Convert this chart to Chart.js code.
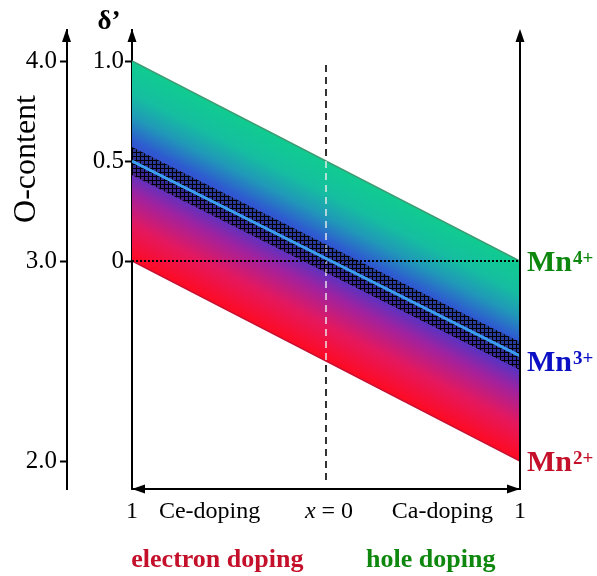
<!DOCTYPE html>
<html>
<head>
<meta charset="utf-8">
<script src="https://cdn.jsdelivr.net/npm/chart.js@4"></script>
<style>
  body { margin: 0; background: #fff; }
</style>
</head>
<body>
<canvas id="chart" width="597" height="576"></canvas>
<script>
// doping axis runs from x = 1 (Ce) through 0 to x = 1 (Ca)
const xRange = [-1, 1];

// delta' values at both ends of each line
const bandUpper = [1.0, 0.0];
const bandLower = [0.0, -1.0];
const hatchUpper = [0.57, -0.405];
const hatchLower = [0.43, -0.545];
const centerLine = [0.5, -0.475];
const zeroLine = [0, 0];

// vertical x = 0 divider
const dividerX = [0, 0];
const dividerY = [0.98, -1.12];
const dividerInBand = [0.5, -0.5];

// axis ticks
const deltaTicks = [0, 0.5, 1.0];
const deltaTickLabels = ['0', '0.5', '1.0'];
const oxygenTicks = [2.0, 3.0, 4.0];
const oxygenTickLabels = ['2.0', '3.0', '4.0'];
const xTicks = [-1, -0.6, 0.6, 1];
const xTickLabels = ['1', 'Ce-doping', 'Ca-doping', '1'];

// manganese valence labels on the right
const ionCharges = ['4+', '3+', '2+'];
const ionLevels = [0, -0.5, -1];
const ionColors = ['#0e870e', '#0c10c4', '#c4102a'];

// doping regime labels under the axis
const dopingLabels = ['electron doping', 'hole doping'];
const dopingX = [-0.56, 0.54];
const dopingColors = ['#c4102a', '#0e870e'];

const SERIF = '"Liberation Serif", "DejaVu Serif", serif';
Chart.defaults.font.family = SERIF;
Chart.defaults.color = '#000';

function pts(ys, xs = xRange) {
    return xs.map((x, i) => ({ x: x, y: ys[i] }));
}

// gradient running across the slanted band, green on top to red at the bottom
function bandGradient(chart) {
    const { ctx, chartArea, scales } = chart;
    if (!chartArea) return 'rgba(0,0,0,0)';
    const x0 = scales.x.getPixelForValue(xRange[0]);
    const x1 = scales.x.getPixelForValue(xRange[1]);
    const t0 = scales.y.getPixelForValue(bandUpper[0]);
    const t1 = scales.y.getPixelForValue(bandUpper[1]);
    const b0 = scales.y.getPixelForValue(bandLower[0]);
    const dx = x1 - x0, dy = t1 - t0, len = Math.hypot(dx, dy);
    const nx = -dy / len, ny = dx / len;
    const dist = (b0 - t0) * ny;
    const g = ctx.createLinearGradient(x0, t0, x0 + nx * dist, t0 + ny * dist);
    g.addColorStop(0.00, '#10cc90');
    g.addColorStop(0.16, '#15bea0');
    g.addColorStop(0.28, '#2098b8');
    g.addColorStop(0.40, '#2e5ad0');
    g.addColorStop(0.52, '#4438cc');
    g.addColorStop(0.66, '#a0229f');
    g.addColorStop(0.82, '#e4185e');
    g.addColorStop(1.00, '#ff0a22');
    return g;
}

// small cross-hatch tile
function hatchPattern() {
    const c = document.createElement('canvas');
    c.width = 4;
    c.height = 4;
    const g = c.getContext('2d');
    g.fillStyle = '#000';
    g.fillRect(0, 0, 4, 1);
    g.fillRect(0, 0, 1, 4);
    g.fillStyle = 'rgba(0,0,0,0.25)';
    g.fillRect(1, 1, 3, 3);
    return g.createPattern(c, 'repeat');
}

function arrow(ctx, x, y, dir) {
    const len = 13, half = 4.5;
    ctx.beginPath();
    if (dir === 'up') {
        ctx.moveTo(x, y);
        ctx.lineTo(x - half, y + len);
        ctx.lineTo(x + half, y + len);
    } else if (dir === 'left') {
        ctx.moveTo(x, y);
        ctx.lineTo(x + len, y - half);
        ctx.lineTo(x + len, y + half);
    } else {
        ctx.moveTo(x, y);
        ctx.lineTo(x - len, y - half);
        ctx.lineTo(x - len, y + half);
    }
    ctx.closePath();
    ctx.fill();
}

const decorations = {
    id: 'decorations',
    afterDraw(chart) {
        const { ctx, chartArea: a, scales } = chart;
        const xs = scales.x, ys = scales.y;
        ctx.save();

        // right-hand axis
        ctx.strokeStyle = '#000';
        ctx.lineWidth = 2;
        ctx.beginPath();
        ctx.moveTo(a.right, a.bottom);
        ctx.lineTo(a.right, a.top + 6);
        ctx.stroke();

        ctx.fillStyle = '#000';
        [scales.y2.right - 0.5, a.left, a.right].forEach(px => arrow(ctx, px, a.top - 1, 'up'));
        arrow(ctx, a.left, a.bottom, 'left');
        arrow(ctx, a.right, a.bottom, 'right');

        // delta' label on top of its axis
        ctx.font = 'bold 27px ' + SERIF;
        ctx.textAlign = 'center';
        ctx.textBaseline = 'alphabetic';
        ctx.fillText('δ’', a.left - 23, 29);

        // O-content title
        ctx.save();
        ctx.translate(35, 159);
        ctx.rotate(-Math.PI / 2);
        ctx.font = '32px ' + SERIF;
        ctx.textAlign = 'center';
        ctx.fillText('O-content', 0, 0);
        ctx.restore();

        // "x = 0" under the divider
        ctx.textAlign = 'left';
        ctx.textBaseline = 'middle';
        ctx.font = 'italic 24px ' + SERIF;
        const wx = ctx.measureText('x').width;
        ctx.font = '24px ' + SERIF;
        const wr = ctx.measureText(' = 0').width;
        let sx = xs.getPixelForValue(0) + 3 - (wx + wr) / 2;
        ctx.font = 'italic 24px ' + SERIF;
        ctx.fillText('x', sx, 512);
        ctx.font = '24px ' + SERIF;
        ctx.fillText(' = 0', sx + wx, 512);

        // Mn valence labels
        ctx.textBaseline = 'alphabetic';
        ionCharges.forEach((charge, i) => {
            const base = ys.getPixelForValue(ionLevels[i]) + 10;
            ctx.fillStyle = ionColors[i];
            ctx.font = 'bold 30px ' + SERIF;
            ctx.fillText('Mn', a.right + 7, base);
            const w = ctx.measureText('Mn').width;
            ctx.font = 'bold 19px ' + SERIF;
            ctx.fillText(charge, a.right + 8 + w, base - 7);
        });

        // doping regime labels
        ctx.textAlign = 'center';
        ctx.textBaseline = 'middle';
        ctx.font = 'bold 26px ' + SERIF;
        dopingLabels.forEach((txt, i) => {
            ctx.fillStyle = dopingColors[i];
            ctx.fillText(txt, xs.getPixelForValue(dopingX[i]), 560);
        });

        ctx.restore();
    }
};

new Chart(document.getElementById('chart'), {
    type: 'line',
    data: {
        datasets: [
            {
                data: pts(dividerY, dividerX),
                borderColor: '#000',
                borderWidth: 1.6,
                borderDash: [7, 5],
                order: 10
            },
            {
                data: pts(bandUpper),
                borderColor: '#3f9a72',
                borderWidth: 1.5,
                fill: '+1',
                backgroundColor: ctx => bandGradient(ctx.chart),
                order: 9
            },
            {
                data: pts(bandLower),
                borderColor: '#c41034',
                borderWidth: 1.5,
                order: 8
            },
            {
                data: pts(dividerInBand, dividerX),
                borderColor: 'rgba(235,235,235,0.9)',
                borderWidth: 1.6,
                borderDash: [7, 5],
                order: 7
            },
            {
                data: pts(zeroLine),
                borderColor: '#000',
                borderWidth: 2,
                borderDash: [2, 2],
                order: 6
            },
            {
                data: pts(hatchUpper),
                borderColor: 'rgba(0,0,0,0)',
                borderWidth: 0,
                fill: '+1',
                backgroundColor: hatchPattern(),
                order: 5
            },
            {
                data: pts(hatchLower),
                borderColor: 'rgba(0,0,0,0)',
                borderWidth: 0,
                order: 4
            },
            {
                data: pts(centerLine),
                borderColor: '#3c9ef0',
                borderWidth: 3,
                order: 1
            }
        ]
    },
    options: {
        responsive: false,
        animation: false,
        devicePixelRatio: 1,
        layout: { padding: { top: 30, right: 77, left: 0, bottom: 0 } },
        elements: {
            point: { radius: 0, hoverRadius: 0 },
            line: { tension: 0 }
        },
        plugins: {
            legend: { display: false },
            tooltip: { enabled: false }
        },
        scales: {
            x: {
                type: 'linear',
                min: -1,
                max: 1,
                z: 1,
                afterBuildTicks: s => { s.ticks = xTicks.map(v => ({ value: v })); },
                afterFit: s => { s.height = 87; },
                ticks: {
                    callback: v => xTickLabels[xTicks.indexOf(v)],
                    font: { size: 24 },
                    color: '#000',
                    padding: 8,
                    autoSkip: false,
                    maxRotation: 0
                },
                grid: { display: false, drawTicks: false },
                border: { display: true, color: '#000', width: 2 }
            },
            y: {
                type: 'linear',
                position: 'left',
                min: -1.14,
                max: 1.155,
                weight: 0,
                z: 1,
                afterBuildTicks: s => { s.ticks = deltaTicks.map(v => ({ value: v })); },
                afterFit: s => { s.width = 65; },
                ticks: {
                    callback: v => deltaTickLabels[deltaTicks.indexOf(v)],
                    font: { size: 25 },
                    color: '#000',
                    padding: 1
                },
                grid: { drawOnChartArea: false, tickLength: 7, tickWidth: 2, color: '#000' },
                border: { color: '#000', width: 2 }
            },
            y2: {
                type: 'linear',
                position: 'left',
                min: 1.86,
                max: 4.155,
                weight: 1,
                afterBuildTicks: s => { s.ticks = oxygenTicks.map(v => ({ value: v })); },
                afterFit: s => { s.width = 67; },
                ticks: {
                    callback: v => oxygenTickLabels[oxygenTicks.indexOf(v)],
                    font: { size: 25 },
                    color: '#000',
                    padding: 3
                },
                grid: { drawOnChartArea: false, tickLength: 7, tickWidth: 2, color: '#000' },
                border: { color: '#000', width: 2 }
            }
        }
    },
    plugins: [decorations]
});
</script>
</body>
</html>
